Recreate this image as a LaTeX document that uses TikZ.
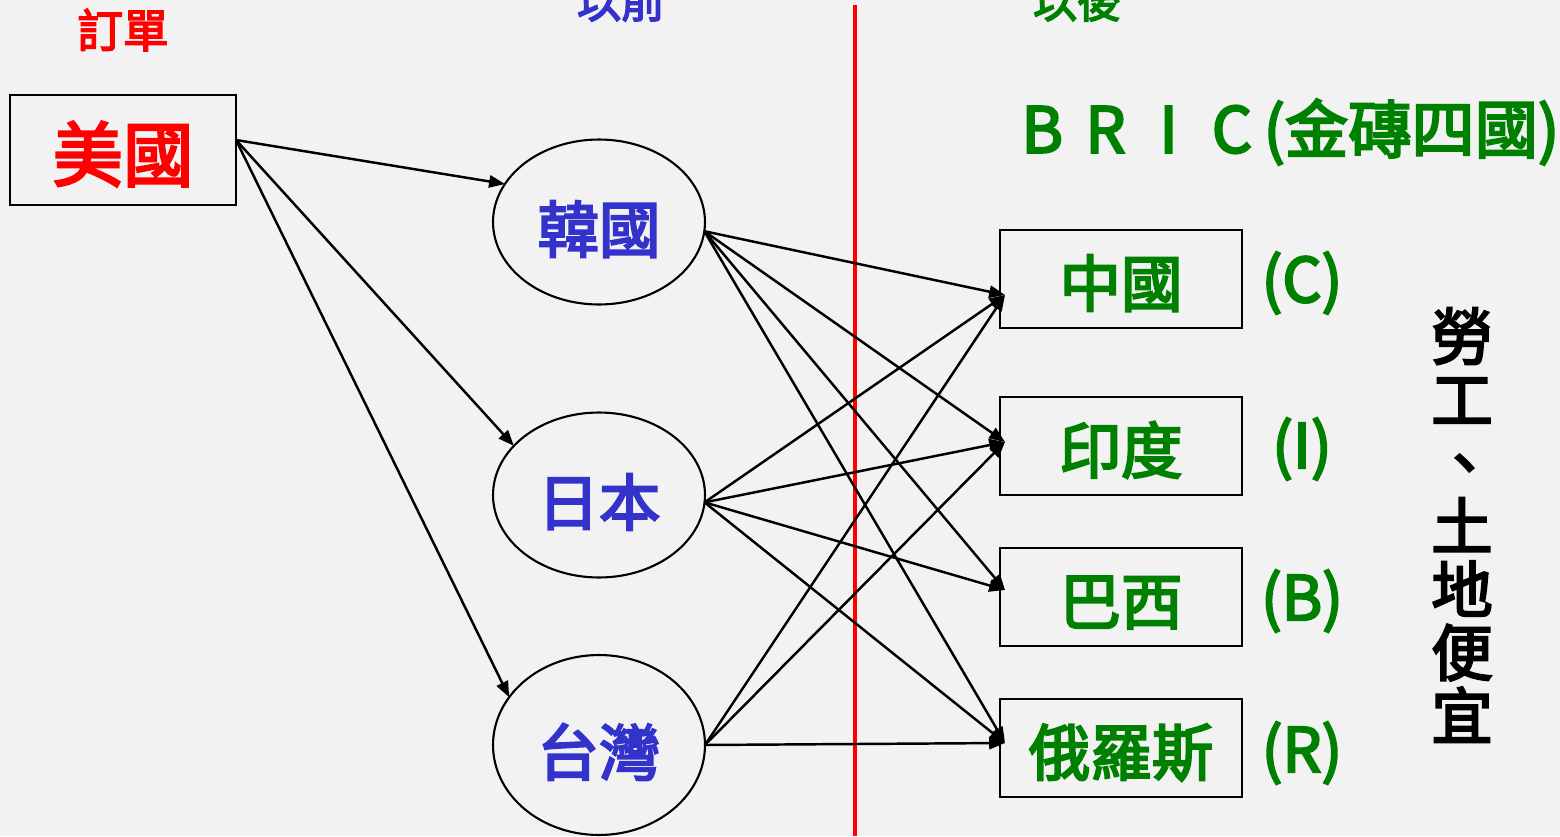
\documentclass[tikz,border=0pt]{standalone}
\usepackage{fontspec}
\setmainfont{Noto Sans CJK TC}
\newfontfamily\semib{Noto Sans CJK TC}[FakeBold=3.5]
\usetikzlibrary{shapes.geometric,arrows.meta,calc}
\definecolor{bg}{HTML}{F2F2F2}
\definecolor{cred}{HTML}{FF0000}
\definecolor{cblue}{HTML}{3333CC}
\definecolor{cgreen}{HTML}{008000}
\begin{document}
\begin{tikzpicture}[x=0.02cm,y=-0.02cm,
  every node/.style={inner sep=0pt, outer sep=0pt},
  srcbox/.style={draw=black, line width=1.2pt, fill=bg, minimum width=4.52cm, minimum height=2.2cm, text=cred, text height=38pt, text depth=3pt, font=\semib\fontsize{40}{44}\selectfont},
  midell/.style={ellipse, draw=black, line width=1.2pt, fill=bg, minimum width=4.24cm, minimum height=3.3cm, text=cblue, text height=38pt, text depth=3.4pt, font=\semib\fontsize{35}{40}\selectfont},
  dstbox/.style={draw=black, line width=1.2pt, fill=bg, minimum width=4.84cm, minimum height=1.96cm, text=cgreen, text height=35pt, text depth=3.8pt, font=\semib\fontsize{35}{40}\selectfont},
  lbl/.style={text=cgreen, font=\semib\fontsize{35}{40}\selectfont},
  conn/.style={line width=1.4pt, -{Triangle[length=9pt,width=7pt]}},
]
\fill[bg] (0,0) rectangle (1560,836);
\useasboundingbox (0,0) rectangle (1560,836);

% headings
\node[text=cred, font=\semib\fontsize{26}{30}\selectfont] (hOrder) at (123,30) {訂單};
\node[text=cblue, font=\semib\fontsize{25}{30}\selectfont] (hBefore) at (621,1) {以前};
\node[text=cgreen, font=\semib\fontsize{25}{30}\selectfont] (hAfter) at (1077,1) {以後};

% divider
\draw[cred, line width=2.3pt] (855,5) coordinate (dTop) -- (855,836) coordinate (dBot);

% source
\node[srcbox] (usa) at (123,150) {美國};
\coordinate (usaout) at (236,140);

% middle
\node[midell] (kor) at (599,222) {韓國};
\node[midell] (jpn) at (599,495) {日本};
\node[midell, minimum height=3.6cm] (twn) at (599,745) {台灣};

% destinations
\node[lbl, font=\semib\fontsize{36}{40}\selectfont] (bric) at (1285,132)
  {\makebox[1em]{B}\makebox[1em]{R}\makebox[1em]{I}\makebox[1em]{C}(金磚四國)};
\node[dstbox] (chn) at (1121,279) {中國};
\node[dstbox] (ind) at (1121,446) {印度};
\node[dstbox] (bra) at (1121,597) {巴西};
\node[dstbox] (rus) at (1121,748) {俄羅斯};
\node[lbl] (lc) at (1302,283) {(C)};
\node[lbl] (li) at (1302,449) {(I)};
\node[lbl] (lb) at (1302,601) {(B)};
\node[lbl] (lr) at (1302,753) {(R)};

\node[align=center, font=\semib\fontsize{35}{36}\selectfont] (reason) at (1462,525)
  {勞\\工\\\makebox[1em][l]{\hspace{0.04em}、}\\土\\地\\便\\宜};

% entry points
\coordinate (chnIn) at ($(chn.west)+(5,16)$);
\coordinate (indIn) at ($(ind.west)+(5,-4)$);
\coordinate (braIn) at ($(bra.west)+(5,-7)$);
\coordinate (rusIn) at ($(rus.west)+(5,-5)$);

% usa -> middle
\draw[conn] (usaout) -- (kor.158);
\draw[conn] (usaout) -- (jpn.150);
\draw[conn] (usaout) -- (twn.152);

% middle -> destinations
\foreach \d in {chnIn, indIn, braIn, rusIn}{
  \draw[conn] (kor.-5) -- (\d);
  \draw[conn] (jpn.-4) -- (\d);
}
\foreach \d in {chnIn, indIn, rusIn}{
  \draw[conn] (twn.0) -- (\d);
}
\end{tikzpicture}
\end{document}
